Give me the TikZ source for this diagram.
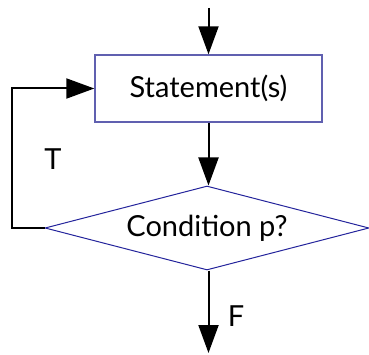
\documentclass[tikz,border=0pt]{standalone}
\usepackage{fontspec}
\setmainfont{Lato}
\usetikzlibrary{arrows.meta,shapes.geometric}
\definecolor{boxblue}{RGB}{96,96,176}
\definecolor{diablue}{RGB}{36,36,156}
\begin{document}
\begin{tikzpicture}[x=1pt,y=-1pt,
  flow/.style={draw=black,line width=2pt,-{Triangle[length=28pt,width=20pt]}},
  txt/.style={font=\fontsize{29}{32}\selectfont},
  stmtbox/.style={txt,draw=boxblue,line width=1.4pt,fill=white,rectangle,
    minimum width=227pt,minimum height=67pt,inner sep=0pt},
  condbox/.style={txt,draw=diablue,line width=1pt,fill=white,diamond,aspect=3.86,
    minimum width=324pt,minimum height=84pt,inner sep=0pt},
  lbl/.style={txt,inner sep=0pt}]
  \useasboundingbox (0,0) rectangle (369,355);
  \clip (0,0) rectangle (369,355);
  \coordinate (in) at (208.5,8);
  \coordinate (out) at (208.5,353);
  \coordinate (lft) at (12,0);
  \node[stmtbox] (s) at (208.5,88.5) {Statement(s)};
  \node[condbox] (c) at (207,228) {Condition p?};
  \draw[flow] (in) -- (s.north);
  \draw[flow] (s.south) -- (s.south |- c.north);
  \draw[flow] (s.south |- c.south) -- (out);
  \draw[flow] (c.west) -- (c.west -| lft) |- (s.west);
  \node[lbl] (t) at (53,159) {T};
  \node[lbl] (f) at (236,316) {F};
\end{tikzpicture}
\end{document}
